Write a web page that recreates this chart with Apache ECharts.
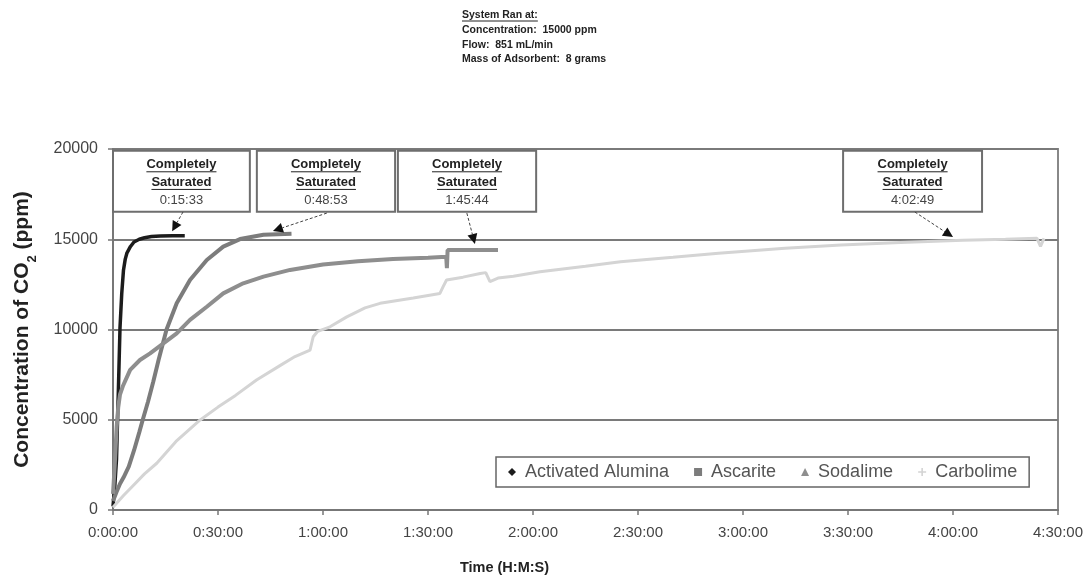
<!DOCTYPE html>
<html><head><meta charset="utf-8">
<script src="https://cdn.jsdelivr.net/npm/echarts@6/dist/echarts.min.js"></script>
<style>html,body{margin:0;padding:0;background:#fff}#c{width:1092px;height:582px}</style>
</head><body><div id="c"></div>
<script>
// ---------- DATA ----------
const seriesNames = ['Activated Alumina', 'Ascarite', 'Sodalime', 'Carbolime'];
const xTicks = [0, 30, 60, 90, 120, 150, 180, 210, 240, 270]; // minutes
const yTicks = [0, 5000, 10000, 15000, 20000];

const aaTime = [0, 0.5, 1.0, 1.5, 2.0, 2.5, 3.0, 3.5, 4.0, 5.0, 6.0, 7.5, 9.0, 11, 13.5, 17, 20.5];
const aaPpm  = [200, 1300, 2800, 6400, 10100, 12000, 13300, 13900, 14250, 14600, 14850, 15000, 15080, 15150, 15180, 15200, 15200];

const ascTime = [0, 1, 2, 3, 4.5, 6, 7.5, 8.5, 10, 11.5, 13, 15.3, 18.2, 22, 26.8, 31.5, 36.3, 43, 51];
const ascPpm  = [500, 1000, 1450, 1800, 2400, 3300, 4300, 5000, 6000, 7100, 8300, 10000, 11450, 12740, 13850, 14590, 15010, 15250, 15300];

const sodTime = [0, 0.5, 1.05, 1.5, 2, 2.9, 4.9, 7.7, 10.6, 14.4, 18.2, 22, 26.8, 31.5, 37.2, 43, 50.6, 60, 70, 80, 90, 95.2, 95.4, 95.6, 110];
const sodPpm  = [900, 2500, 4600, 5700, 6400, 6900, 7760, 8310, 8680, 9230, 9790, 10530, 11260, 12000, 12560, 12930, 13300, 13600, 13780, 13900, 13980, 14030, 13400, 14400, 14400];

const carbTime = [0, 3, 6, 9, 12.5, 18, 24.9, 30, 35, 41, 47.7, 52, 56.3, 57.2, 58.5, 62, 66.8, 72, 76.3, 85.8, 93.4, 94.4, 95.3, 100, 104.9, 106.5, 107.7, 110, 114.4, 122, 135, 145, 160, 173, 192, 208, 225, 242.8, 255, 264, 265, 266];
const carbPpm  = [150, 800, 1400, 2000, 2590, 3800, 4990, 5700, 6350, 7200, 8000, 8500, 8860, 9600, 9900, 10150, 10700, 11200, 11450, 11750, 12000, 12400, 12740, 12900, 13100, 13150, 12650, 12850, 12950, 13200, 13500, 13750, 14000, 14220, 14500, 14680, 14820, 14950, 15000, 15050, 14600, 15050];

const satLabels = ['0:15:33', '0:48:53', '1:45:44', '4:02:49'];
const titleLines = ['System Ran at:', 'Concentration:  15000 ppm', 'Flow:  851 mL/min', 'Mass of Adsorbent:  8 grams'];

// ---------- ANNOTATION PLACEMENT (data coords) ----------
const boxSpans = [[0, 39.1], [41.1, 80.6], [81.4, 120.9], [208.6, 248.3]];
const boxPpmRange = [16530, 19900];
const arrows = [
  [[20, 16510], [16.9, 15450]],
  [[61.1, 16450], [45.7, 15460]],
  [[101.1, 16450], [103.4, 14740]],
  [[229.1, 16510], [240, 15120]]
];

// ---------- CHART ----------
function fmt(m) {
  const s = Math.round(m * 60);
  const h = Math.floor(s / 3600), mm = Math.floor((s % 3600) / 60), ss = s % 60;
  return h + ':' + String(mm).padStart(2, '0') + ':' + String(ss).padStart(2, '0');
}
function pairs(t, v) { return t.map((x, i) => [x, v[i]]); }

const colors = ['#1c1c1c', '#7c7c7c', '#8e8e8e', '#d4d4d4'];
const widths = [3.5, 4, 4, 3];
const icons = ['diamond', 'rect', 'triangle', 'path://M4,0H6V4H10V6H6V10H4V6H0V4H4Z'];
const datasets = [pairs(aaTime, aaPpm), pairs(ascTime, ascPpm), pairs(sodTime, sodPpm), pairs(carbTime, carbPpm)];

const chart = echarts.init(document.getElementById('c'), null, { renderer: 'canvas' });
const FONT = 'Liberation Sans, Arial, sans-serif';

chart.setOption({
  animation: false,
  backgroundColor: '#fff',
  grid: { left: 113, right: 34, top: 149, bottom: 72, show: true, borderColor: '#888', borderWidth: 2, backgroundColor: 'transparent' },
  legend: {
    left: 496, top: 457,
    padding: [6, 12],
    itemGap: 25, itemWidth: 8, itemHeight: 8,
    borderColor: '#666', borderWidth: 1.5, backgroundColor: '#fff',
    textStyle: { fontFamily: FONT, fontSize: 18, color: '#555', padding: [0, 0, 0, 4] },
    data: seriesNames.map((n, i) => ({ name: n, icon: icons[i], itemStyle: { color: colors[i] } }))
  },
  xAxis: {
    type: 'value', min: xTicks[0], max: xTicks[xTicks.length - 1], interval: 30,
    name: 'Time (H:M:S)', nameLocation: 'middle', nameGap: 50,
    nameTextStyle: { fontFamily: FONT, fontSize: 14.5, fontWeight: 'bold', color: '#222', padding: [0, 162, 0, 0] },
    axisLine: { lineStyle: { color: '#777', width: 2 } },
    axisTick: { show: true, inside: false, length: 5, lineStyle: { color: '#777', width: 1.5 } },
    axisLabel: { formatter: fmt, fontFamily: FONT, fontSize: 15, color: '#444', margin: 15 },
    splitLine: { show: false }
  },
  yAxis: {
    type: 'value', min: yTicks[0], max: yTicks[yTicks.length - 1], interval: 5000,
    name: 'Concentration of CO{sub|2} (ppm)', nameLocation: 'middle', nameGap: 80, nameRotate: 90,
    nameTextStyle: { fontFamily: FONT, fontSize: 21, fontWeight: 'bold', color: '#222',
      rich: { sub: { fontFamily: FONT, fontSize: 13, fontWeight: 'bold', color: '#222', verticalAlign: 'bottom', padding: [0, 0, -6, 0] } } },
    axisLine: { show: true, lineStyle: { color: '#777', width: 2 } },
    axisTick: { show: true, inside: false, length: 5, lineStyle: { color: '#777', width: 1.5 } },
    axisLabel: { formatter: v => String(v), fontFamily: FONT, fontSize: 16, color: '#444', margin: 15 },
    splitLine: { show: true, lineStyle: { color: '#7a7a7a', width: 2 } }
  },
  series: seriesNames.map((n, i) => ({
    name: n, type: 'line', data: datasets[i], showSymbol: false, symbol: icons[i],
    lineStyle: { color: colors[i], width: widths[i] }, itemStyle: { color: colors[i] },
    z: 2 + i
  }))
});

// ---------- ANNOTATIONS (positioned via chart scales) ----------
const mctx = document.createElement('canvas').getContext('2d');
function textW(str, font) { mctx.font = font; return mctx.measureText(str).width; }
const g = [];

// Title block
const tFont = 'bold 10.5px ' + FONT;
titleLines.forEach((s, i) => {
  const y = 15.5 + i * 14.7;
  g.push({ type: 'text', x: 462, y: y, style: { text: s, font: tFont, fill: '#222', verticalAlign: 'middle' }, z: 100 });
  if (i === 0) {
    const w = textW(s, tFont);
    g.push({ type: 'line', shape: { x1: 462, y1: y + 5.5, x2: 462 + w, y2: y + 5.5 }, style: { stroke: '#222', lineWidth: 1 }, z: 100 });
  }
});

const bFont = 'bold 13px ' + FONT;
const rFont = '13px ' + FONT;
boxSpans.forEach((sp, i) => {
  const p1 = chart.convertToPixel({ gridIndex: 0 }, [sp[0], boxPpmRange[1]]);
  const p2 = chart.convertToPixel({ gridIndex: 0 }, [sp[1], boxPpmRange[0]]);
  const x = p1[0], y = p1[1], w = p2[0] - p1[0], h = p2[1] - p1[1];
  const cx = x + w / 2;
  g.push({ type: 'rect', shape: { x: x, y: y, width: w, height: h }, style: { fill: '#fff', stroke: '#6e6e6e', lineWidth: 2 }, z: 50 });
  const lines = [['Completely', bFont, true], ['Saturated', bFont, true], [satLabels[i], rFont, false]];
  lines.forEach((L, j) => {
    const ty = y + h * [0.23, 0.52, 0.82][j];
    g.push({ type: 'text', x: cx, y: ty, style: { text: L[0], font: L[1], fill: j === 2 ? '#444' : '#222', align: 'center', verticalAlign: 'middle' }, z: 51 });
    if (L[2]) {
      const tw = textW(L[0], L[1]);
      g.push({ type: 'line', shape: { x1: cx - tw / 2, y1: ty + 7, x2: cx + tw / 2, y2: ty + 7 }, style: { stroke: '#222', lineWidth: 1 }, z: 51 });
    }
  });
});

arrows.forEach(a => {
  const p = chart.convertToPixel({ gridIndex: 0 }, a[0]);
  const q = chart.convertToPixel({ gridIndex: 0 }, a[1]);
  const dx = q[0] - p[0], dy = q[1] - p[1], len = Math.hypot(dx, dy);
  const ux = dx / len, uy = dy / len;
  const hl = 10, hw = 5;
  const bx = q[0] - ux * hl, by = q[1] - uy * hl;
  g.push({ type: 'line', shape: { x1: p[0], y1: p[1], x2: bx, y2: by }, style: { stroke: '#444', lineWidth: 1, lineDash: [3, 2] }, z: 60 });
  g.push({ type: 'polygon', shape: { points: [[q[0], q[1]], [bx - uy * hw, by + ux * hw], [bx + uy * hw, by - ux * hw]] }, style: { fill: '#111' }, z: 60 });
});

chart.setOption({ graphic: g });
</script>
</body></html>
